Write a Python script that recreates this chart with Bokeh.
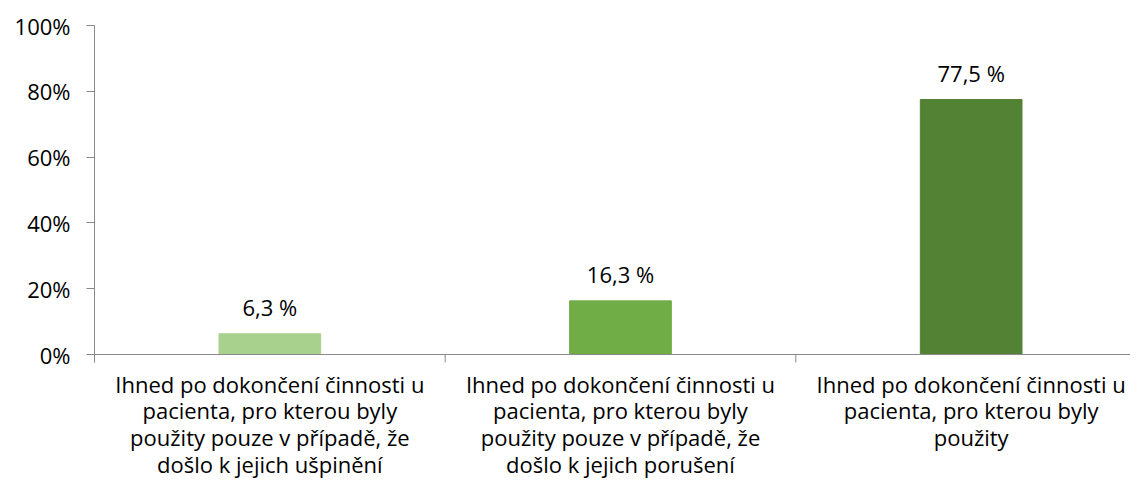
from bokeh.plotting import figure
from bokeh.models import ColumnDataSource, FixedTicker, NumeralTickFormatter, Range1d, Span
from bokeh.core.properties import value
from bokeh.embed import file_html
from bokeh.resources import INLINE

category_lines = [
    ["Ihned po dokončení činnosti u", "pacienta, pro kterou byly", "použity pouze v případě, že", "došlo k jejich ušpinění"],
    ["Ihned po dokončení činnosti u", "pacienta, pro kterou byly", "použity pouze v případě, že", "došlo k jejich porušení"],
    ["Ihned po dokončení činnosti u", "pacienta, pro kterou byly", "použity"],
]
values = [0.063, 0.163, 0.775]
colors = ["#A9D18E", "#70AD47", "#548235"]
y_ticks = [0, 0.2, 0.4, 0.6, 0.8, 1.0]

FONT = "Open Sans"
W, H = 1130, 481
LEFT, TOP, ZERO_Y = 94, 25, 354      # pixel layout of the reference
REF_RIGHT = 1146                      # where the category axis ends in the reference
PX_PER_UNIT = ZERO_Y - TOP            # pixels for 0..100 %
TICK = 8

n = len(values)
xs = [i + 0.5 for i in range(n)]
bounds = list(range(n + 1))
labels = [("%.1f" % (v * 100)).replace(".", ",") + " %" for v in values]
cat_text = ["\n".join(lines) for lines in category_lines]
x_end = n * (W - LEFT) / (REF_RIGHT - LEFT)
y_start = -(H - ZERO_Y) / PX_PER_UNIT
tick_len = TICK / PX_PER_UNIT

src = ColumnDataSource(dict(x=xs, top=values, color=colors, label=labels, cat=cat_text))

p = figure(width=W, height=H, output_backend="svg", toolbar_location=None,
           x_axis_location=None,
           x_range=Range1d(0, x_end), y_range=Range1d(y_start, 1),
           min_border_left=LEFT, min_border_right=0, min_border_top=TOP, min_border_bottom=0)
p.outline_line_color = None
p.xgrid.grid_line_color = None
p.ygrid.grid_line_color = None

axis_gray = "#898989"

p.vbar(x="x", top="top", width=0.29, color="color", source=src)
p.text(x="x", y="top", text="label", source=src, text_align="center", text_baseline="middle",
       y_offset=-27, text_font=value(FONT), text_font_size="22px", text_color="#000000")

# category axis line and boundary ticks
p.add_layout(Span(location=0, dimension="width", line_color=axis_gray, line_width=1))
p.segment(x0=bounds, y0=[0] * len(bounds), x1=bounds, y1=[-tick_len] * len(bounds),
          line_color=axis_gray, line_width=1)

# category labels
p.text(x="x", y=0, text="cat", source=src, text_align="center", text_baseline="top",
       y_offset=14, text_font=value(FONT), text_font_size="22px", text_color="#000000",
       text_line_height=0.89)

p.yaxis.ticker = FixedTicker(ticks=y_ticks)
p.yaxis.bounds = (-tick_len, 1)
p.yaxis.formatter = NumeralTickFormatter(format="0%")
p.yaxis.axis_line_color = axis_gray
p.yaxis.major_tick_line_color = axis_gray
p.yaxis.major_tick_out = TICK
p.yaxis.major_tick_in = 0
p.yaxis.minor_tick_line_color = None
p.yaxis.major_label_text_font = FONT
p.yaxis.major_label_text_font_size = "22px"
p.yaxis.major_label_text_color = "#000000"
p.yaxis.major_label_standoff = 16

open("out.html", "w").write(file_html(p, INLINE))
